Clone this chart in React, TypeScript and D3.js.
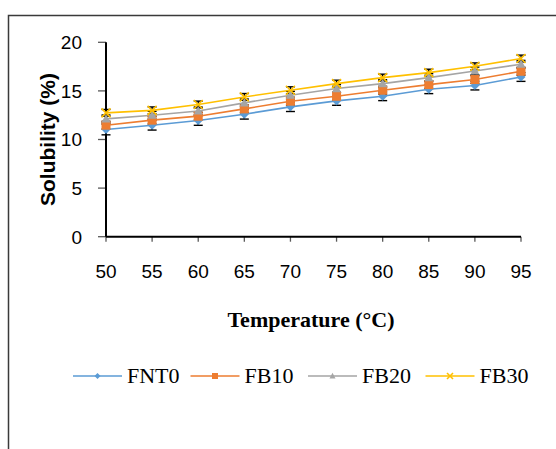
import React from "react";
import * as d3 from "d3";

const temperatures = [50, 55, 60, 65, 70, 75, 80, 85, 90, 95];
const seriesNames = ["FNT0", "FB10", "FB20", "FB30"];
const fnt0 = [11.03, 11.47, 11.96, 12.6, 13.36, 13.97, 14.45, 15.17, 15.55, 16.43];
const fb10 = [11.47, 11.99, 12.4, 13.15, 13.94, 14.45, 15.07, 15.65, 16.17, 17.02];
const fb20 = [12.12, 12.5, 12.94, 13.77, 14.56, 15.24, 15.75, 16.37, 17.05, 17.74];
const fb30 = [12.74, 13.0, 13.6, 14.38, 15.07, 15.75, 16.37, 16.88, 17.53, 18.33];
const errFnt0 = [0.55, 0.5, 0.5, 0.5, 0.48, 0.45, 0.45, 0.45, 0.45, 0.45];
const errFb10 = [0.4, 0.4, 0.4, 0.4, 0.4, 0.4, 0.4, 0.4, 0.4, 0.4];
const errFb20 = [0.4, 0.4, 0.4, 0.4, 0.4, 0.4, 0.4, 0.4, 0.4, 0.4];
const errFb30 = [0.35, 0.35, 0.35, 0.35, 0.35, 0.35, 0.35, 0.35, 0.35, 0.35];
const yTicks = [0, 5, 10, 15, 20];

const colors = ["#5B9BD5", "#ED7D31", "#A5A5A5", "#FFC000"];
const markerTypes = ["diamond", "square", "triangle", "x"];

function Marker({ type, x, y, size, color }: { type: string; x: number; y: number; size: number; color: string }) {
  const h = size / 2;
  if (type === "diamond") {
    return <path d={`M${x},${y - h}L${x + h},${y}L${x},${y + h}L${x - h},${y}Z`} fill={color} />;
  }
  if (type === "square") {
    return <rect x={x - h} y={y - h} width={size} height={size} fill={color} />;
  }
  if (type === "triangle") {
    return <path d={`M${x},${y - h * 1.1}L${x + h},${y + h * 0.8}L${x - h},${y + h * 0.8}Z`} fill={color} />;
  }
  return (
    <path d={`M${x - h},${y - h}L${x + h},${y + h}M${x + h},${y - h}L${x - h},${y + h}`} stroke={color} strokeWidth={1.6} fill="none" />
  );
}

export default function App() {
  const data = [fnt0, fb10, fb20, fb30];
  const errs = [errFnt0, errFb10, errFb20, errFb30];
  const x = d3.scalePoint<number>().domain(temperatures).range([106, 521]);
  const y = d3.scaleLinear().domain([0, 20]).range([236.7, 42.3]);
  const line = d3
    .line<number>()
    .x((_, i) => x(temperatures[i]) as number)
    .y((d) => y(d));

  const legendStart = 73;
  const legendStep = 117.5;
  const legendY = 376;

  return (
    <svg width={556} height={449} style={{ position: "absolute", left: 0, top: 0, background: "#fff" }}>
      <rect x={0} y={0} width={556} height={449} fill="#fff" />
      <path d="M8.5,470V15.5H580" fill="none" stroke="#3a3a3a" strokeWidth={1.5} />

      {/* y ticks */}
      {yTicks.map((t) => (
        <g key={t}>
          <line x1={98} x2={106} y1={y(t)} y2={y(t)} stroke="#595959" strokeWidth={1.3} />
          <text x={82} y={y(t)} dy="0.36em" textAnchor="end" fontFamily="Liberation Sans, Arial, sans-serif" fontSize={19} fill="#000">
            {t}
          </text>
        </g>
      ))}
      {/* x ticks */}
      {temperatures.map((t) => (
        <g key={t}>
          <line x1={x(t)} x2={x(t)} y1={y(0)} y2={y(0) + 5} stroke="#595959" strokeWidth={1.3} />
          <text x={x(t)} y={278} textAnchor="middle" fontFamily="Liberation Sans, Arial, sans-serif" fontSize={19} fill="#000">
            {t}
          </text>
        </g>
      ))}
      <line x1={106} x2={106} y1={y(20)} y2={y(0)} stroke="#000" strokeWidth={2} />
      <line x1={106} x2={521} y1={y(0)} y2={y(0)} stroke="#000" strokeWidth={2} />

      {/* error bars */}
      {data.map((s, si) =>
        s.map((v, i) => {
          const cx = x(temperatures[i]) as number;
          const e = errs[si][i];
          return (
            <g key={`e${si}-${i}`} stroke="#000" strokeWidth={1.4}>
              <line x1={cx} x2={cx} y1={y(v - e)} y2={y(v + e)} />
              <line x1={cx - 4.5} x2={cx + 4.5} y1={y(v - e)} y2={y(v - e)} />
              <line x1={cx - 4.5} x2={cx + 4.5} y1={y(v + e)} y2={y(v + e)} />
            </g>
          );
        })
      )}

      {/* lines */}
      {data.map((s, si) => (
        <path key={`l${si}`} d={line(s) as string} fill="none" stroke={colors[si]} strokeWidth={1.6} />
      ))}
      {/* markers */}
      {data.map((s, si) =>
        s.map((v, i) => (
          <Marker key={`m${si}-${i}`} type={markerTypes[si]} x={x(temperatures[i]) as number} y={y(v)} size={9} color={colors[si]} />
        ))
      )}

      <text
        transform={`translate(47,${(y(0) + y(20)) / 2}) rotate(-90)`}
        textAnchor="middle"
        dy="0.36em"
        fontFamily="Liberation Sans, Arial, sans-serif"
        fontWeight="bold"
        fontSize={21}
        fill="#000"
      >
        Solubility (%)
      </text>

      <text x={311} y={327} textAnchor="middle" fontFamily="Liberation Serif, Times New Roman, serif" fontWeight="bold" fontSize={22} fill="#000">
        Temperature (°C)
      </text>

      {seriesNames.map((n, i) => {
        const sx = legendStart + i * legendStep;
        return (
          <g key={n}>
            <line x1={sx} x2={sx + 49} y1={legendY} y2={legendY} stroke={colors[i]} strokeWidth={1.6} />
            <Marker type={markerTypes[i]} x={sx + 24.5} y={legendY} size={6} color={colors[i]} />
            <text x={sx + 54} y={legendY} dy="0.34em" fontFamily="Liberation Serif, Times New Roman, serif" fontSize={22} fill="#000">
              {n}
            </text>
          </g>
        );
      })}
    </svg>
  );
}
